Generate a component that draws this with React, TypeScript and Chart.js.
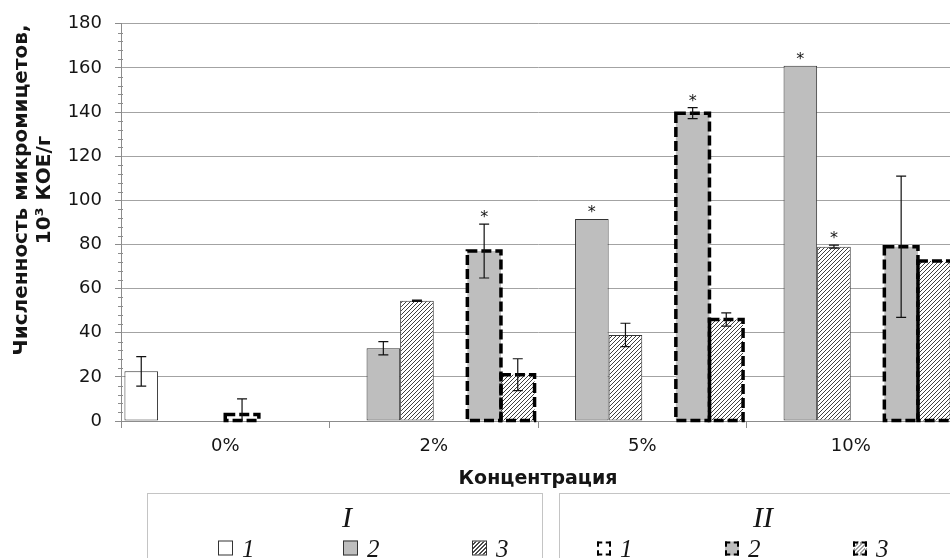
import React, { useEffect, useRef } from 'react';
import { Chart, registerables } from 'chart.js';

Chart.register(...registerables);

// ---------- data ----------
const categories = ['0%', '2%', '5%', '10%'];

const valuesI1 = [22.5, null, null, null];
const valuesI2 = [null, 33, 91.5, 161];
const valuesI3 = [null, 54.5, 39, 79];
const valuesII1 = [3, null, null, null];
const valuesII2 = [null, 77, 139.5, 79];
const valuesII3 = [null, 21, 46, 72.5];

const errorsI1 = [6.7, 0, 0, 0];
const errorsI2 = [0, 3, 0, 0];
const errorsI3 = [0, 0.3, 5.3, 0.7];
const errorsII1 = [7, 0, 0, 0];
const errorsII2 = [0, 12.2, 2.5, 32];
const errorsII3 = [0, 7.2, 3, 0];

const starsI2 = [false, false, true, true];
const starsI3 = [false, false, false, true];
const starsII2 = [false, true, true, false];
const noStars = [false, false, false, false];

const yMin = 0;
const yMax = 180;
const yMajorStep = 20;
const yMinorStep = 4;

const xTitle = 'Концентрация';
const yTitleLines = ['Численность микромицетов,', '10³ КОЕ/г'];
const groupNames = ['I', 'II'];
const seriesNumbers = ['1', '2', '3'];

// ---------- styles ----------
const GRAY = '#bebebe';
const TEXT = '#151515';
const FONT = '"DejaVu Sans", Verdana, sans-serif';
const SERIF = '"Liberation Serif", "Times New Roman", serif';
const HATCH_CSS = 'repeating-linear-gradient(135deg, #ffffff 0px, #ffffff 1.6px, #4a4a4a 1.6px, #4a4a4a 2.8px)';

function makeHatch(): CanvasPattern | string {
  const c = document.createElement('canvas');
  const s = 4;
  c.width = s;
  c.height = s;
  const g = c.getContext('2d');
  if (!g) return '#ddd';
  g.fillStyle = '#ffffff';
  g.fillRect(0, 0, s, s);
  g.strokeStyle = '#404040';
  g.lineWidth = 1;
  g.beginPath();
  g.moveTo(-1, s + 1);
  g.lineTo(s + 1, -1);
  g.moveTo(-1, 1);
  g.lineTo(1, -1);
  g.moveTo(s - 1, s + 1);
  g.lineTo(s + 1, s - 1);
  g.stroke();
  return g.createPattern(c, 'repeat') || '#ddd';
}

const decorPlugin = {
  id: 'decor',
  afterDatasetsDraw(chart: any) {
    const ctx = chart.ctx;
    const yScale = chart.scales.y;
    // dashed borders
    chart.data.datasets.forEach((ds: any, i: number) => {
      if (!ds.dashed) return;
      const meta = chart.getDatasetMeta(i);
      meta.data.forEach((bar: any, j: number) => {
        if (ds.data[j] == null) return;
        const p = bar.getProps(['x', 'y', 'base', 'width'], true);
        ctx.save();
        ctx.setLineDash([10, 4]);
        ctx.lineWidth = 3.5;
        ctx.strokeStyle = '#000';
        ctx.strokeRect(p.x - p.width / 2, p.y, p.width, p.base - p.y);
        ctx.restore();
      });
    });
    // error bars and stars
    chart.data.datasets.forEach((ds: any, i: number) => {
      const meta = chart.getDatasetMeta(i);
      meta.data.forEach((bar: any, j: number) => {
        const v = ds.data[j];
        if (v == null) return;
        const p = bar.getProps(['x', 'y'], true);
        const e = ds.errors[j] || 0;
        let topPx = p.y;
        if (e > 0) {
          const yt = yScale.getPixelForValue(v + e);
          const yb = yScale.getPixelForValue(Math.max(0, v - e));
          ctx.save();
          ctx.strokeStyle = '#111';
          ctx.lineWidth = 1.2;
          ctx.beginPath();
          ctx.moveTo(p.x, yt);
          ctx.lineTo(p.x, yb);
          ctx.moveTo(p.x - 5, yt);
          ctx.lineTo(p.x + 5, yt);
          if (v - e > 0) {
            ctx.moveTo(p.x - 5, yb);
            ctx.lineTo(p.x + 5, yb);
          }
          ctx.stroke();
          ctx.restore();
          topPx = Math.min(topPx, yt);
        }
        if (ds.stars[j]) {
          ctx.save();
          ctx.fillStyle = TEXT;
          ctx.font = '16px ' + FONT;
          ctx.textAlign = 'center';
          ctx.textBaseline = 'alphabetic';
          ctx.fillText('*', p.x, topPx - 11 + 9);
          ctx.restore();
        }
      });
    });
  },
  afterDraw(chart: any) {
    const ctx = chart.ctx;
    const yScale = chart.scales.y;
    const left = chart.chartArea.left;
    // minor ticks on y axis
    ctx.save();
    ctx.strokeStyle = '#8c8c8c';
    ctx.lineWidth = 1;
    ctx.beginPath();
    for (let v = yMin; v <= yMax; v += yMinorStep) {
      if (v % yMajorStep === 0) continue;
      const py = Math.round(yScale.getPixelForValue(v)) + 0.5;
      ctx.moveTo(left - 3, py);
      ctx.lineTo(left + 2, py);
    }
    ctx.stroke();
    ctx.restore();
    // y axis title (two lines, rotated)
    ctx.save();
    ctx.fillStyle = TEXT;
    ctx.font = 'bold 20px ' + FONT;
    ctx.textAlign = 'center';
    ctx.textBaseline = 'middle';
    const centerY = 190;
    yTitleLines.forEach((line, k) => {
      ctx.save();
      ctx.translate(22 + k * 23, centerY);
      ctx.rotate(-Math.PI / 2);
      ctx.fillText(line, 0, 0);
      ctx.restore();
    });
    ctx.restore();
  },
};

function Swatch({ fill, dashed }: { fill: string; dashed: boolean }) {
  const style: React.CSSProperties = dashed
    ? { width: 10, height: 10, border: '2.5px dashed #000', background: fill }
    : { width: 13, height: 13, border: '1px solid #333', background: fill };
  return <div style={style} />;
}

export default function App() {
  const canvasRef = useRef<HTMLCanvasElement | null>(null);

  useEffect(() => {
    const canvas = canvasRef.current;
    if (!canvas) return;
    const hatch = makeHatch();
    const datasets: any[] = [
      { label: 'I 1', data: valuesI1, backgroundColor: '#ffffff', borderColor: '#333', borderWidth: 1, dashed: false, errors: errorsI1, stars: noStars },
      { label: 'I 2', data: valuesI2, backgroundColor: GRAY, borderColor: '#333', borderWidth: 1, dashed: false, errors: errorsI2, stars: starsI2 },
      { label: 'I 3', data: valuesI3, backgroundColor: hatch, borderColor: '#333', borderWidth: 1, dashed: false, errors: errorsI3, stars: starsI3 },
      { label: 'II 1', data: valuesII1, backgroundColor: '#ffffff', borderWidth: 0, dashed: true, errors: errorsII1, stars: noStars },
      { label: 'II 2', data: valuesII2, backgroundColor: GRAY, borderWidth: 0, dashed: true, errors: errorsII2, stars: starsII2 },
      { label: 'II 3', data: valuesII3, backgroundColor: hatch, borderWidth: 0, dashed: true, errors: errorsII3, stars: noStars },
    ];
    const chart = new Chart(canvas, {
      type: 'bar',
      data: { labels: categories, datasets },
      options: {
        responsive: false,
        animation: false,
        devicePixelRatio: 1,
        layout: { padding: { left: 0, right: 15, top: 22, bottom: 57 } },
        datasets: { bar: { categoryPercentage: 0.967, barPercentage: 1, borderSkipped: false } as any },
        plugins: { legend: { display: false }, tooltip: { enabled: false } },
        scales: {
          x: {
            grid: { drawOnChartArea: false, drawTicks: true, tickLength: 7, color: '#8c8c8c', offset: true },
            border: { color: '#8c8c8c', width: 1 },
            ticks: { font: { family: FONT, size: 18 }, color: TEXT, padding: 8 },
            title: {
              display: true,
              text: xTitle,
              font: { family: FONT, size: 19, weight: 'bold' },
              color: TEXT,
              padding: { top: 0, bottom: 11 },
            },
            afterFit: (s: any) => { s.height = 80; },
          },
          y: {
            min: yMin,
            max: yMax,
            ticks: { stepSize: yMajorStep, font: { family: FONT, size: 18 }, color: TEXT, padding: 13 },
            grid: { color: '#a3a3a3', tickLength: 6, tickColor: '#8c8c8c' },
            border: { color: '#8c8c8c', width: 1 },
            afterFit: (s: any) => { s.width = 121; },
          },
        },
      } as any,
      plugins: [decorPlugin],
    });
    return () => chart.destroy();
  }, []);

  const boxes = [
    { left: 147, width: 396, titleX: 347, items: [218, 343, 472], dashed: false },
    { left: 559, width: 430, titleX: 763, items: [597, 725, 853], dashed: true },
  ];
  const fills = ['#ffffff', GRAY, HATCH_CSS];

  return (
    <div style={{ position: 'fixed', left: 0, top: 0, width: 950, height: 558, overflow: 'hidden', background: '#fff' }}>
      <canvas ref={canvasRef} width={970} height={558} style={{ position: 'absolute', left: 0, top: 0, display: 'block' }} />
      {boxes.map((b, gi) => (
        <div key={gi}>
          <div style={{ position: 'absolute', left: b.left, top: 493, width: b.width, height: 120, border: '1px solid #c4c4c4', boxSizing: 'border-box' }} />
          <div style={{ position: 'absolute', left: b.titleX, top: 517, transform: 'translate(-50%, -50%)', fontFamily: SERIF, fontStyle: 'italic', fontSize: 30, lineHeight: '30px', color: TEXT }}>
            {groupNames[gi]}
          </div>
          {b.items.map((x, k) => (
            <div key={k} style={{ position: 'absolute', left: x, top: 548, transform: 'translateY(-50%)', display: 'flex', alignItems: 'center', gap: 9 }}>
              <Swatch fill={fills[k]} dashed={b.dashed} />
              <span style={{ fontFamily: SERIF, fontStyle: 'italic', fontSize: 25, lineHeight: '25px', color: TEXT }}>{seriesNumbers[k]}</span>
            </div>
          ))}
        </div>
      ))}
    </div>
  );
}
